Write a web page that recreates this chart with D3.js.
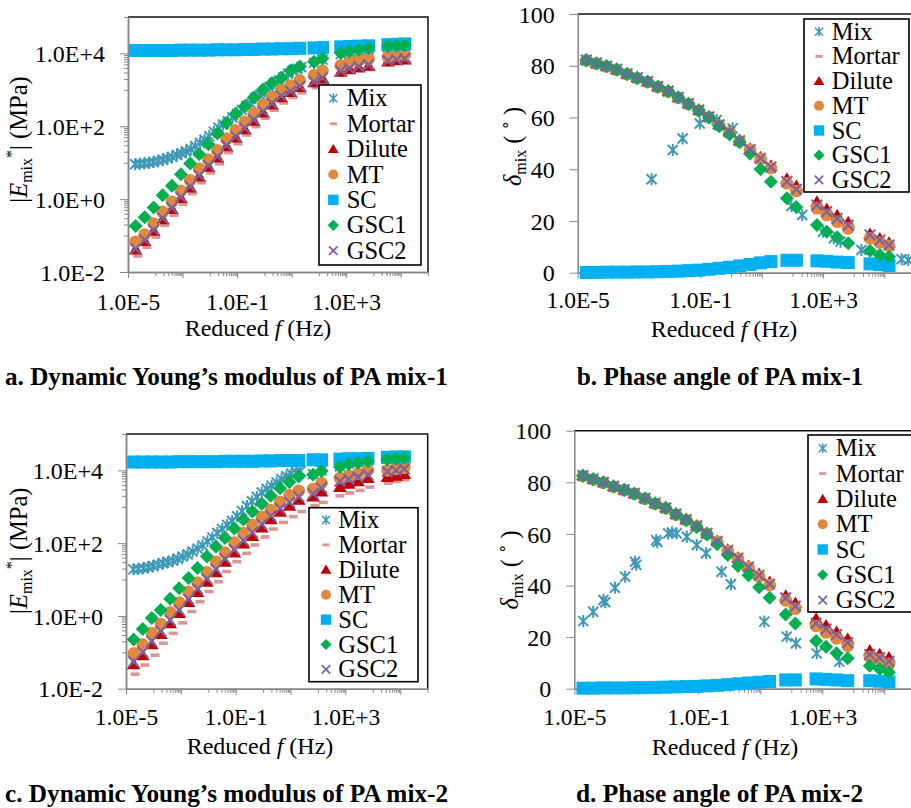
<!DOCTYPE html>
<html>
<head>
<meta charset="utf-8">
<script src="https://cdn.jsdelivr.net/npm/d3@7"></script>
<style>
  body { margin: 0; background: #fff; }
  svg { display: block; font-family: "Liberation Serif", "Times New Roman", serif; }
</style>
</head>
<body>
<svg id="chart" width="911" height="808"></svg>
<script>
// ---------------------------------------------------------------------------
// Data. Frequencies are log10 of reduced frequency (Hz); moduli are log10 of
// |E*| (MPa); phase angles are in degrees.
// ---------------------------------------------------------------------------
const seriesNames = ["Mix", "Mortar", "Dilute", "MT", "SC", "GSC1", "GSC2"];

// shared reduced-frequency grid of the master curves
const logFreq = [-4.72,-4.39,-4.06,-3.73,-3.39,-3.06,-2.72,-2.39,-2.05,-1.72,-1.39,-1.05,-0.72,-0.39,-0.05,0.28,0.62,0.96,1.30,1.82,2.13,2.80,3.12,3.46,3.82,4.53,4.85,5.15];

// (a) dynamic modulus, PA mix-1
const mixLogFreqA = [-4.74,-4.57,-4.40,-4.23,-4.06,-3.89,-3.72,-3.55,-3.38,-3.21,-3.04,-2.87,-2.70,-2.53,-2.36,-2.19,-2.02,-1.85,-1.68,-1.51,-1.34,-1.17,-1.00,-0.83,-0.66,-0.49,-0.32,-0.15,0.02,0.19,0.36,0.53,0.70,0.87,1.04,1.21,1.35,1.82,2.13,2.80,3.12,3.46,3.82,4.53,4.85,5.15];
const mixLogModA = [0.96,0.97,0.98,1.00,1.02,1.05,1.08,1.12,1.16,1.21,1.26,1.31,1.37,1.45,1.54,1.63,1.73,1.85,1.96,2.05,2.14,2.24,2.34,2.45,2.55,2.62,2.78,2.86,2.96,3.07,3.18,3.26,3.35,3.44,3.52,3.58,3.62,3.74,3.83,3.98,4.03,4.07,4.12,4.17,4.18,4.20];
const mortarLogFreqA = [-4.64,-4.31,-3.98,-3.65,-3.31,-2.98,-2.64,-2.31,-1.97,-1.64,-1.31,-0.97,-0.64,-0.31,0.03,0.36,0.70,1.04,1.38,1.90,2.21,2.88,3.20,3.54,3.90,4.61,4.93,5.23];
const mortarLogModA = [-1.56,-1.32,-1.04,-0.72,-0.44,-0.14,0.15,0.45,0.72,0.97,1.28,1.52,1.76,1.99,2.22,2.44,2.64,2.79,2.92,3.06,3.16,3.42,3.47,3.52,3.56,3.70,3.73,3.75];
const diluteLogModA = [-1.38,-1.15,-0.87,-0.55,-0.27,0.03,0.32,0.62,0.89,1.14,1.45,1.69,1.92,2.15,2.38,2.60,2.80,2.94,3.08,3.21,3.31,3.50,3.57,3.62,3.66,3.78,3.81,3.83];
const mtLogModA = [-1.17,-0.97,-0.67,-0.35,-0.07,0.23,0.52,0.84,1.09,1.34,1.66,1.89,2.12,2.35,2.58,2.80,2.99,3.12,3.26,3.40,3.52,3.67,3.76,3.81,3.85,3.90,3.95,3.96];
const scLogModA = [4.08,4.08,4.08,4.08,4.08,4.09,4.09,4.09,4.09,4.10,4.10,4.10,4.11,4.11,4.12,4.12,4.13,4.13,4.14,4.15,4.16,4.18,4.19,4.20,4.21,4.24,4.25,4.26];
const gsc1LogModA = [-0.74,-0.50,-0.23,0.11,0.37,0.68,0.98,1.23,1.51,1.80,2.09,2.35,2.55,2.79,3.01,3.19,3.33,3.53,3.64,3.77,3.86,4.01,4.06,4.10,4.15,4.20,4.21,4.23];
const gsc2LogModA = [-1.36,-1.12,-0.84,-0.52,-0.24,0.06,0.35,0.65,0.92,1.17,1.48,1.72,1.95,2.18,2.41,2.63,2.83,2.96,3.10,3.23,3.33,3.52,3.59,3.64,3.69,3.80,3.83,3.86];

// (b) phase angle, PA mix-1
const mixLogFreqB = [-2.59,-1.90,-1.58,-1.02,-0.47,0.05,1.97,2.32,3.00,3.35,3.57,4.25,5.56,5.78];
const mixPhaseB = [36.1,47.4,51.9,57.7,59.0,55.8,25.8,22.3,15.8,13.3,12.0,8.8,5.2,4.9];
const mortarPhaseB = [82.3,81.1,80.0,78.7,77.0,75.5,74.0,72.1,70.3,67.9,65.5,63.0,60.4,57.4,54.6,51.2,47.8,44.4,41.0,35.8,33.0,26.8,24.2,21.8,19.2,14.8,13.0,11.2];
const dilutePhaseB = [82.4,81.2,80.1,78.8,77.1,75.6,74.1,72.2,70.4,68.0,65.6,63.1,60.5,57.5,54.7,51.3,47.9,44.6,41.3,36.3,33.5,27.4,24.6,22.2,19.5,15.0,13.2,11.6];
const mtPhaseB = [82.0,80.8,79.7,78.4,76.7,75.2,73.7,71.8,70.0,67.6,65.2,62.7,60.1,57.0,54.2,50.8,47.4,44.0,40.5,34.6,31.6,24.9,22.3,19.7,17.1,13.3,11.7,10.4];
const scPhaseB = [0.1,0.1,0.2,0.2,0.2,0.3,0.3,0.4,0.5,0.6,0.8,1.0,1.3,1.7,2.1,2.6,3.2,3.8,4.3,4.8,4.8,4.6,4.4,4.1,3.9,3.4,3.1,2.8];
const gsc1PhaseB = [82.1,80.9,79.8,78.5,76.8,75.3,73.8,71.9,70.1,67.7,65.2,62.6,60.0,56.6,53.4,50.4,46.0,40.0,35.2,28.8,25.3,18.4,15.8,13.7,11.4,8.5,6.8,6.2];
const gsc2PhaseB = [82.2,81.0,79.9,78.6,76.9,75.4,73.9,72.0,70.2,67.8,65.4,62.9,60.3,57.2,54.4,51.0,47.6,44.2,40.8,35.2,32.2,26.2,23.6,21.0,18.4,14.6,12.6,10.7];

// (c) dynamic modulus, PA mix-2
const mixLogFreqC = [-4.73,-4.55,-4.37,-4.19,-4.01,-3.83,-3.65,-3.47,-3.29,-3.11,-2.93,-2.75,-2.57,-2.39,-2.21,-2.03,-1.85,-1.67,-1.49,-1.31,-1.13,-0.95,-0.77,-0.59,-0.41,-0.23,-0.05,0.13,0.31,0.49,0.67,0.85,1.03,1.21,1.36,1.82,2.13,2.80,3.12,3.46,3.82,4.53,4.85,5.15];
const mixLogModC = [1.28,1.29,1.31,1.34,1.37,1.41,1.45,1.48,1.52,1.57,1.63,1.69,1.77,1.85,1.94,2.05,2.16,2.28,2.39,2.50,2.61,2.74,2.88,3.02,3.15,3.27,3.39,3.49,3.58,3.67,3.76,3.84,3.91,3.95,3.98,3.90,4.00,4.11,4.19,4.23,4.28,4.32,4.35,4.37];
const mortarLogFreqC = [-4.67,-4.31,-3.94,-3.64,-3.28,-2.93,-2.60,-2.30,-1.97,-1.63,-1.33,-0.96,-0.60,-0.30,0.07,0.37,0.74,1.10,1.41,1.89,2.19,2.80,3.16,3.53,3.89,4.56,4.86,5.17];
const mortarLogModC = [-1.60,-1.35,-1.08,-0.75,-0.48,-0.19,0.12,0.39,0.67,0.94,1.22,1.49,1.72,1.95,2.17,2.39,2.57,2.73,2.87,3.03,3.12,3.30,3.38,3.45,3.54,3.65,3.70,3.74];
const diluteLogModC = [-1.33,-1.08,-0.78,-0.50,-0.20,0.08,0.38,0.66,0.94,1.20,1.49,1.74,1.99,2.20,2.43,2.66,2.86,3.03,3.19,3.28,3.42,3.54,3.63,3.70,3.79,3.82,3.85,3.90];
const mtLogModC = [-1.03,-0.79,-0.47,-0.22,0.10,0.37,0.66,0.92,1.20,1.49,1.74,2.02,2.28,2.50,2.72,2.91,3.13,3.32,3.44,3.49,3.65,3.79,3.85,3.91,4.00,4.00,4.04,4.07];
const scLogModC = [4.23,4.23,4.23,4.23,4.23,4.24,4.24,4.24,4.24,4.24,4.25,4.25,4.25,4.25,4.26,4.26,4.27,4.27,4.27,4.29,4.29,4.31,4.32,4.32,4.33,4.36,4.37,4.37];
const gsc1LogModC = [-0.65,-0.36,-0.06,0.16,0.47,0.76,1.04,1.32,1.63,1.90,2.14,2.40,2.65,2.87,3.08,3.30,3.51,3.68,3.83,3.88,3.98,4.09,4.17,4.21,4.26,4.30,4.33,4.35];
const gsc2LogModC = [-1.26,-1.00,-0.70,-0.42,-0.12,0.16,0.46,0.74,1.02,1.28,1.57,1.82,2.07,2.29,2.52,2.75,2.95,3.12,3.28,3.36,3.52,3.70,3.76,3.82,3.88,3.97,4.00,4.04];

// (d) phase angle, PA mix-2
const mixLogFreqD = [-4.71,-4.39,-4.06,-4.00,-3.69,-3.36,-3.04,-3.00,-2.36,-2.32,-1.97,-1.85,-1.70,-1.37,-1.05,-0.75,-0.25,0.05,1.13,1.85,2.15,2.82,3.55];
const mixPhaseD = [26.2,29.8,34.4,33.5,39.1,43.4,49.2,48.0,57.6,56.8,60.2,60.5,60.2,58.9,55.7,52.5,45.3,40.5,26.0,20.2,17.6,13.7,10.5];
const mortarPhaseD = [82.7,81.4,80.1,78.6,77.2,75.8,73.9,72.0,70.2,67.8,65.7,63.2,60.3,57.2,53.8,50.8,47.5,44.4,41.2,35.8,33.0,26.8,24.4,21.8,19.5,14.6,13.2,11.8];
const dilutePhaseD = [82.8,81.5,80.2,78.7,77.3,75.9,74.0,72.1,70.3,67.9,65.8,63.3,60.4,57.3,53.9,50.9,47.6,44.5,41.4,36.0,33.2,27.1,24.5,22.0,19.3,14.8,13.4,12.1];
const mtPhaseD = [82.4,81.1,79.8,78.3,76.9,75.5,73.6,71.7,69.9,67.5,65.4,62.9,60.0,56.9,53.4,50.4,47.0,43.6,40.2,34.2,31.0,24.3,21.8,19.5,16.6,12.4,11.3,9.6];
const scPhaseD = [0.2,0.2,0.3,0.3,0.3,0.4,0.4,0.5,0.6,0.7,0.8,0.9,1.1,1.3,1.6,1.9,2.2,2.5,2.8,3.4,3.4,3.8,3.6,3.4,3.1,3.1,2.9,2.6];
const gsc1PhaseD = [82.5,81.2,79.9,78.4,77.0,75.6,73.7,71.8,70.0,67.5,65.3,62.7,59.8,56.0,51.8,47.6,44.0,39.3,35.3,28.8,25.3,18.5,16.3,13.7,11.8,8.9,7.6,6.4];
const gsc2PhaseD = [82.6,81.3,80.0,78.5,77.1,75.7,73.8,71.9,70.1,67.7,65.6,63.1,60.2,57.1,53.6,50.6,47.2,44.0,40.6,35.2,32.0,25.4,23.1,21.0,17.8,13.2,12.0,10.6];

// axis ticks (log10 exponents / degrees)
const freqMajorExps = [-5, -3, -1, 1, 3, 5];
const freqMinorExps = [-4, -2, 0, 2, 4, 6];
const freqLabelExps = [-5, -1, 3];
const modMajorExps = [-2, 0, 2, 4];
const modMinorExps = [-1, 1, 3, 5];
const phaseTicks = [0, 20, 40, 60, 80, 100];

const captions = [
  "a. Dynamic Young\u2019s modulus of PA mix-1",
  "b. Phase angle of PA mix-1",
  "c. Dynamic Young\u2019s modulus of PA mix-2",
  "d. Phase angle of PA mix-2"
];

// ---------------------------------------------------------------------------
// Marker styles (Excel-like)
// ---------------------------------------------------------------------------
const circle = r => `M${r},0A${r},${r} 0 1,1 ${-r},0A${r},${r} 0 1,1 ${r},0Z`;
const markerStyle = {
  Mix:    { color: "#3F99B6", d: "M-5,-5L5,5M-5,5L5,-5M0,-6L0,6", stroke: 2 },
  Mortar: { color: "#D99694", d: "M-4.5,-1.8h9v3.6h-9z" },
  Dilute: { color: "#C00000", d: "M0,-6.5L6.8,5L-6.8,5Z" },
  MT:     { color: "#E0883E", d: circle(6.3) },
  SC:     { color: "#00B0F0", d: "M-6.5,-6.5h13v13h-13z" },
  GSC1:   { color: "#00B050", d: "M0,-7L7,0L0,7L-7,0Z" },
  GSC2:   { color: "#7B60A2", d: "M-5.3,-5.3L5.3,5.3M-5.3,5.3L5.3,-5.3", stroke: 2.1 }
};

// ---------------------------------------------------------------------------
// Panel layout
// ---------------------------------------------------------------------------
const panels = [
  { kind: "mod", x0: 128, x1: 428, y0: 17, y1: 272,
    series: { Mix: [mixLogFreqA, mixLogModA], Mortar: [mortarLogFreqA, mortarLogModA], Dilute: [logFreq, diluteLogModA],
              MT: [logFreq, mtLogModA], SC: [logFreq, scLogModA], GSC1: [logFreq, gsc1LogModA], GSC2: [logFreq, gsc2LogModA] },
    yTitle: [27, 139.5], xTitle: [258, 336], labelY: 309.5,
    legend: { x: 319, y: 85, w: 102, h: 180, first: 98.3, step: 25.4, mx: 14.3, tx: 27.7 },
    caption: { x: 5, y: 385, w: 443, text: captions[0] } },
  { kind: "phase", x0: 577.7, x1: 915.1, y0: 14, y1: 272.7,
    series: { Mix: [mixLogFreqB, mixPhaseB], Mortar: [logFreq, mortarPhaseB], Dilute: [logFreq, dilutePhaseB],
              MT: [logFreq, mtPhaseB], SC: [logFreq, scPhaseB], GSC1: [logFreq, gsc1PhaseB], GSC2: [logFreq, gsc2PhaseB] },
    yTitle: [521, 146.5], xTitle: [724, 336.5], labelY: 308.5,
    legend: { x: 804, y: 19, w: 105, h: 173, first: 31.7, step: 24.7, mx: 15, tx: 27.7 },
    caption: { x: 576.7, y: 385, w: 286.7, text: captions[1] } },
  { kind: "mod", x0: 126, x1: 427.7, y0: 434, y1: 688.7,
    series: { Mix: [mixLogFreqC, mixLogModC], Mortar: [mortarLogFreqC, mortarLogModC], Dilute: [logFreq, diluteLogModC],
              MT: [logFreq, mtLogModC], SC: [logFreq, scLogModC], GSC1: [logFreq, gsc1LogModC], GSC2: [logFreq, gsc2LogModC] },
    yTitle: [26.7, 550.7], xTitle: [260, 754], labelY: 725,
    legend: { x: 309, y: 507.7, w: 109, h: 174, first: 520, step: 24.9, mx: 17, tx: 29.3 },
    caption: { x: 5, y: 801.5, w: 443, text: captions[2] } },
  { kind: "phase", x0: 574.3, x1: 915.3, y0: 430.7, y1: 688.7,
    series: { Mix: [mixLogFreqD, mixPhaseD], Mortar: [logFreq, mortarPhaseD], Dilute: [logFreq, dilutePhaseD],
              MT: [logFreq, mtPhaseD], SC: [logFreq, scPhaseD], GSC1: [logFreq, gsc1PhaseD], GSC2: [logFreq, gsc2PhaseD] },
    yTitle: [518, 570], xTitle: [725, 754.5], labelY: 725,
    legend: { x: 808, y: 435, w: 110, h: 177, first: 448.3, step: 25.3, mx: 14.7, tx: 27.7 },
    caption: { x: 576, y: 801.5, w: 287.3, text: captions[3] } }
];

const AXIS_GREY = "#868686";
const svg = d3.select("#chart");

const expLabel = v => {
  const e = Math.round(Math.log10(v));
  return "1.0E" + (e < 0 ? "-" : "+") + Math.abs(e);
};
const logMinorTicks = (exps, lo, hi) =>
  exps.flatMap(e => d3.range(1, 10).map(k => k * Math.pow(10, e))).filter(v => v >= lo * 0.999 && v <= hi * 1.001);

function styleAxis(g, size) {
  g.attr("font-family", null).attr("font-size", null);
  g.select(".domain").attr("stroke", AXIS_GREY).attr("stroke-width", 1.5);
  g.selectAll(".tick line").attr("stroke", AXIS_GREY).attr("stroke-width", 1);
  g.selectAll("text").attr("fill", "#000").style("font-size", (size || 24) + "px")
    .style("font-family", '"Liberation Serif", serif');
}

function drawPanel(p) {
  const g = svg.append("g");
  const x = d3.scaleLog().domain([1e-5, 1e6]).range([p.x0, p.x1]);
  const y = p.kind === "mod"
    ? d3.scaleLog().domain([1e-2, 1e5]).range([p.y1, p.y0])
    : d3.scaleLinear().domain([0, 100]).range([p.y1, p.y0]);

  // plot-area frame (top and right)
  g.append("path")
    .attr("d", `M${p.x0},${p.y0}H${p.x1}V${p.y1}`)
    .attr("fill", "none").attr("stroke", "#111").attr("stroke-width", 1.5);

  // x axis: minor ticks, then major ticks with labels
  const xMinor = logMinorTicks(freqMinorExps, 1e-5, 1e6);
  const xMajor = freqMajorExps.map(e => Math.pow(10, e));
  const gxm = g.append("g").attr("transform", `translate(0,${p.y1})`)
    .call(d3.axisBottom(x).tickValues(xMinor).tickSize(4).tickSizeOuter(0).tickFormat(""));
  styleAxis(gxm);
  const gx = g.append("g").attr("transform", `translate(0,${p.y1})`)
    .call(d3.axisBottom(x).tickValues(xMajor).tickSize(6).tickSizeOuter(0)
      .tickFormat(v => freqLabelExps.includes(Math.round(Math.log10(v))) ? expLabel(v) : ""));
  styleAxis(gx, 23.5);
  gx.selectAll("text").attr("y", p.labelY - p.y1).attr("dy", 0);

  // y axis
  if (p.kind === "mod") {
    const yMinor = logMinorTicks(modMinorExps, 1e-2, 1e5);
    const gym = g.append("g").attr("transform", `translate(${p.x0},0)`)
      .call(d3.axisLeft(y).tickValues(yMinor).tickSize(4).tickSizeOuter(0).tickFormat(""));
    styleAxis(gym);
    const gy = g.append("g").attr("transform", `translate(${p.x0},0)`)
      .call(d3.axisLeft(y).tickValues(modMajorExps.map(e => Math.pow(10, e))).tickSize(8).tickSizeOuter(0).tickFormat(expLabel));
    styleAxis(gy);
    gy.selectAll("text").attr("x", -23).attr("dy", "0.34em");
  } else {
    const gy = g.append("g").attr("transform", `translate(${p.x0},0)`)
      .call(d3.axisLeft(y).tickValues(phaseTicks).tickSize(8).tickSizeOuter(0).tickFormat(d3.format("d")));
    styleAxis(gy);
    gy.selectAll("text").attr("x", -23).attr("dy", "0.34em");
  }

  // series markers, drawn in legend order
  seriesNames.forEach(name => {
    const [fx, vy] = p.series[name];
    const pts = fx.map((e, i) => ({ f: Math.pow(10, e), v: p.kind === "mod" ? Math.pow(10, vy[i]) : vy[i] }));
    const st = markerStyle[name];
    g.append("g").selectAll("path").data(pts).join("path")
      .attr("transform", d => `translate(${x(d.f)},${y(d.v)})`)
      .attr("d", st.d)
      .attr("fill", st.stroke ? "none" : st.color)
      .attr("stroke", st.stroke ? st.color : "none")
      .attr("stroke-width", st.stroke || 0);
  });

  // axis titles
  const xt = g.append("text").attr("x", p.xTitle[0]).attr("y", p.xTitle[1])
    .attr("text-anchor", "middle").style("font-size", "24px").attr("fill", "#000");
  xt.append("tspan").text("Reduced ");
  xt.append("tspan").style("font-style", "italic").text("f");
  xt.append("tspan").text(" (Hz)");

  const yt = g.append("text")
    .attr("transform", `translate(${p.yTitle[0]},${p.yTitle[1]}) rotate(-90)`)
    .attr("text-anchor", "middle").style("font-size", "24.5px").attr("fill", "#000");
  if (p.kind === "mod") {
    yt.append("tspan").text("|");
    yt.append("tspan").style("font-style", "italic").text("E");
    yt.append("tspan").attr("dy", 5).style("font-size", "16px").text("mix");
    yt.append("tspan").attr("dy", -15).style("font-size", "16px").text("*");
    yt.append("tspan").attr("dy", 10).text("| (MPa)");
  } else {
    yt.append("tspan").style("font-style", "italic").text("\u03B4");
    yt.append("tspan").attr("dy", 5).style("font-size", "16px").text("mix");
    yt.append("tspan").attr("dy", -5).text(" ( \u02DA )");
  }

  // legend
  const L = p.legend;
  const lg = g.append("g").attr("transform", `translate(${L.x},${L.y})`);
  lg.append("rect").attr("width", L.w).attr("height", L.h)
    .attr("fill", "#fff").attr("stroke", "#000").attr("stroke-width", 1.6);
  seriesNames.forEach((name, i) => {
    const cy = L.first - L.y + i * L.step;
    const st = markerStyle[name];
    lg.append("path")
      .attr("transform", `translate(${L.mx},${cy}) scale(0.8)`)
      .attr("d", st.d)
      .attr("fill", st.stroke ? "none" : st.color)
      .attr("stroke", st.stroke ? st.color : "none")
      .attr("stroke-width", st.stroke || 0);
    lg.append("text").attr("x", L.tx).attr("y", cy).attr("dy", "0.33em")
      .style("font-size", "24.5px").attr("fill", "#000").text(name);
  });

  // caption, fitted to its measured width
  const cap = svg.append("text").attr("x", p.caption.x).attr("y", p.caption.y)
    .style("font-size", "24px").style("font-weight", "bold").attr("fill", "#000")
    .text(p.caption.text);
  const len = cap.node().getComputedTextLength();
  if (len > 0) cap.style("font-size", (24 * p.caption.w / len).toFixed(2) + "px");
}

panels.forEach(drawPanel);
</script>
</body>
</html>
